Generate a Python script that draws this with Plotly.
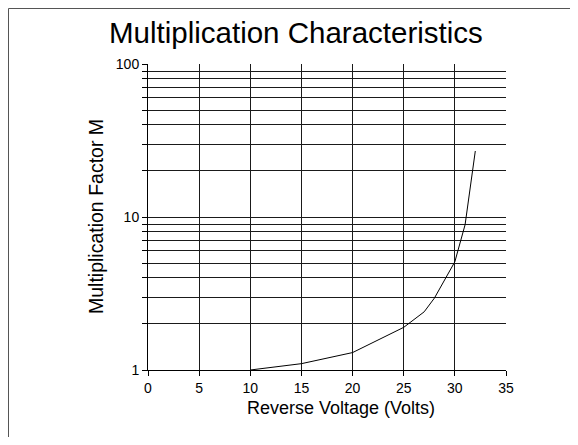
import plotly.graph_objects as go

# Data
voltage = [10, 15, 20, 25, 27, 28, 30, 31, 32]
mult_factor = [1.0, 1.1, 1.3, 1.9, 2.4, 2.95, 5.1, 8.9, 27]

x_ticks = [0, 5, 10, 15, 20, 25, 30, 35]
y_major = [1, 10, 100]
y_minor = [2, 3, 4, 5, 6, 7, 8, 9, 20, 30, 40, 50, 60, 70, 80, 90]

title_text = "Multiplication Characteristics"
x_title = "Reverse Voltage (Volts)"
y_title = "Multiplication Factor M"

# page offset caused by the default body margin
OFF = 8
PAGE_W, PAGE_H = 578, 445
W, H = PAGE_W - 2 * OFF, PAGE_H - 2 * OFF
# plot area in page pixels
L, R, T, B = 148, 506, 64, 370
FONT = "Arial, Liberation Sans, sans-serif"

def px_x(p):
    return (p - L) / (R - L)

def px_y(p):
    return (B - p) / (B - T)

fig = go.Figure()
fig.add_trace(go.Scatter(x=voltage, y=mult_factor, mode="lines",
                         line=dict(color="black", width=1), showlegend=False))

grid = "#1a1a1a"
fig.update_layout(
    width=W, height=H,
    margin=dict(l=L - OFF, r=(OFF + W) - R, t=T - OFF, b=(OFF + H) - B),
    paper_bgcolor="white", plot_bgcolor="white",
    font=dict(family=FONT, color="black", size=14),
    showlegend=False,
    xaxis=dict(range=[0, 35], tickvals=x_ticks, showgrid=True, gridcolor=grid,
               gridwidth=1, zeroline=False, showline=True, linecolor="black",
               linewidth=1, ticks="outside", ticklen=5, tickcolor="black",
               tickfont=dict(size=14), mirror=False),
    yaxis=dict(type="log", range=[0, 2], tickvals=y_major,
               ticktext=[str(v) for v in y_major],
               showgrid=True, gridcolor=grid, gridwidth=1, zeroline=False,
               showline=True, linecolor="black", linewidth=1,
               ticks="outside", ticklen=5, tickcolor="black",
               tickfont=dict(size=14),
               minor=dict(tickvals=y_minor, showgrid=True, gridcolor=grid,
                          gridwidth=1, ticks="outside", ticklen=5,
                          tickcolor="black")),
)

fig.add_annotation(text=title_text, xref="paper", yref="paper",
                   x=px_x(296), y=px_y(33), xanchor="center", yanchor="middle",
                   showarrow=False, font=dict(size=29.5, family=FONT))
fig.add_annotation(text=x_title, xref="paper", yref="paper",
                   x=px_x(341), y=px_y(408), xanchor="center", yanchor="middle",
                   showarrow=False, font=dict(size=18, family=FONT))
fig.add_annotation(text=y_title, xref="paper", yref="paper",
                   x=px_x(96), y=0.5, xanchor="center", yanchor="middle",
                   textangle=-90, showarrow=False, font=dict(size=19.5, family=FONT))

# outer frame (left and top edges)
fig.add_shape(type="line", xref="paper", yref="paper",
              x0=px_x(OFF + 0.5), y0=px_y(PAGE_H + 1), x1=px_x(OFF + 0.5), y1=px_y(OFF + 0.5),
              line=dict(color="#555555", width=1))
fig.add_shape(type="line", xref="paper", yref="paper",
              x0=px_x(OFF + 0.5), y0=px_y(OFF + 0.5), x1=px_x(PAGE_W + 1), y1=px_y(OFF + 0.5),
              line=dict(color="#555555", width=1))

fig.write_html("out.html")
